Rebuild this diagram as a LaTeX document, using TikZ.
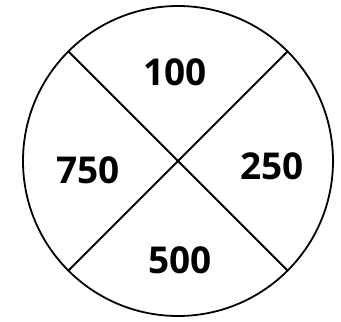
\documentclass[tikz,border=0pt]{standalone}
\usepackage{fontspec}
\setmainfont{Open Sans}
\begin{document}
\begin{tikzpicture}[x=1pt, y=1pt, every node/.style={font=\fontsize{37}{42}\selectfont\bfseries}]
    \useasboundingbox (-178,-161) rectangle (163,161);
    \node[circle, draw, line width=1.8pt, minimum size=310pt, inner sep=0pt] (disc) at (0,0) {};
    \draw[line width=1.8pt] (disc.135) -- (disc.315);
    \draw[line width=1.8pt] (disc.45) -- (disc.225);
    \node (top) at (-3,89) {100};
    \node (right) at (94,-5) {250};
    \node (bottom) at (2,-99) {500};
    \node (left) at (-90,-9) {750};
\end{tikzpicture}
\end{document}
